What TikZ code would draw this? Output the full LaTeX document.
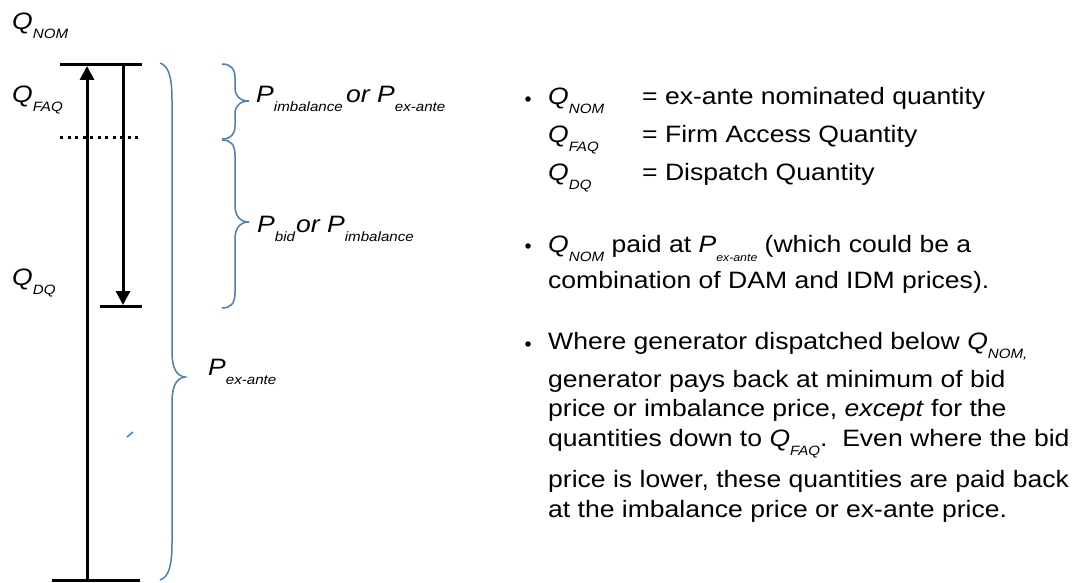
\documentclass[tikz,border=0pt]{standalone}
\usepackage{fontspec}
\setmainfont{Liberation Sans}
\usetikzlibrary{arrows.meta}
\definecolor{braceblue}{RGB}{74,126,187}
\newcommand{\sx}[1]{\scalebox{1.12}[1]{#1}}
\newcommand{\sbs}[1]{\raisebox{-9pt}{\fontsize{13.5}{14}\selectfont\itshape #1}}
\newcommand{\sbsm}[1]{\raisebox{-9pt}{\fontsize{11}{12}\selectfont\itshape #1}}
\newcommand{\Qv}{\textit{Q}}
\begin{document}
\begin{tikzpicture}[x=1pt,y=-1pt,
  txt/.style={anchor=base west, inner sep=0pt, font=\fontsize{23.7}{28}\selectfont},
  bar/.style={line width=3pt},
  arr/.style={line width=3pt, -{Triangle[length=14pt,width=14pt]}},
  dots/.style={line width=3pt, dash pattern=on 3pt off 4.5pt},
  brc/.style={draw=braceblue, line width=1.5pt},
  bul/.style={circle, fill=black, inner sep=0pt, minimum size=5.5pt}]
\useasboundingbox (0,0) rectangle (1074,583);

% left labels
\node[txt] (qnom) at (12,30) {\sx{\Qv\sbs{NOM}}};
\node[txt] (qfaq) at (12,103) {\sx{\Qv\sbs{FAQ}}};
\node[txt] (qdq)  at (12,285) {\sx{\Qv\sbs{DQ}}};

% bars
\coordinate (t1) at (60,65);  \coordinate (t2) at (142,65);
\coordinate (d1) at (60,138); \coordinate (d2) at (142,138);
\coordinate (s1) at (100,306); \coordinate (s2) at (142,306);
\coordinate (b1) at (52,580); \coordinate (b2) at (140,580);
\coordinate (ua) at (87,580); \coordinate (ub) at (87,66);
\coordinate (da) at (123,65); \coordinate (db) at (123,305);
\draw[bar] (t1) -- (t2);
\draw[dots] (d1) -- (d2);
\draw[bar] (s1) -- (s2);
\draw[bar] (b1) -- (b2);
\draw[arr] (ua) -- (ub);
\draw[arr] (da) -- (db);

% big brace
\draw[brc] (160,63) .. controls (169,66) and (172,78) .. (172,100) -- (172,352)
  .. controls (172,369) and (177,376) .. (185,377)
  .. controls (177,378) and (172,385) .. (172,402) -- (172,543)
  .. controls (172,565) and (169,577) .. (160,580);
% small brace 1
\draw[brc] (222,64) .. controls (231,64) and (235,69) .. (235,78) -- (235,88)
  .. controls (235,96) and (240,101) .. (249,101)
  .. controls (240,101) and (235,106) .. (235,114) -- (235,126)
  .. controls (235,134) and (231,139) .. (222,139);
% small brace 2
\draw[brc] (222,140) .. controls (231,140) and (235,145) .. (235,155) -- (235,205)
  .. controls (235,216) and (240,222) .. (249,222)
  .. controls (240,222) and (235,228) .. (235,239) -- (235,293)
  .. controls (235,303) and (231,308) .. (222,308);
% tick
\draw[brc] (127,437) -- (133,432);

% brace labels
\node[txt] (pimb) at (256,103) {\sx{\itshape P\sbs{imbalance}\hspace{3pt}or P\sbs{ex-ante}}};
\node[txt] (pbid) at (257,233) {\sx{\itshape P\sbs{bid}\hspace{1pt}or P\sbs{imbalance}}};
\node[txt] (pex)  at (208,375) {\sx{\itshape P\sbs{ex-ante}}};

% right column
\node[bul] (u1) at (528,99) {};
\node[bul] (u2) at (528,246) {};
\node[bul] (u3) at (528,344) {};
\node[txt] (l1a) at (548,105) {\sx{\Qv\sbs{NOM}}};
\node[txt] (l1b) at (642,105) {\sx{= ex-ante nominated quantity}};
\node[txt] (l2a) at (548,143) {\sx{\Qv\sbs{FAQ}}};
\node[txt] (l2b) at (642,143) {\sx{= Firm Access Quantity}};
\node[txt] (l3a) at (548,181) {\sx{\Qv\sbs{DQ}}};
\node[txt] (l3b) at (642,181) {\sx{= Dispatch Quantity}};
\node[txt] (m1) at (548,252) {\sx{\Qv\sbs{NOM} paid at \textit{P}\sbsm{ex-ante} (which could be a}};
\node[txt] (m2) at (548,288) {\sx{combination of DAM and IDM prices).}};
\node[txt] (n1) at (548,349) {\sx{Where generator dispatched below \Qv\sbs{NOM,}}};
\node[txt] (n2) at (548,387) {\sx{generator pays back at minimum of bid}};
\node[txt] (n3) at (548,416) {\sx{price or imbalance price, \textit{except} for the}};
\node[txt] (n4) at (548,446) {\sx{quantities down to \Qv\sbs{FAQ}.\ \ Even where the bid}};
\node[txt] (n5) at (548,487) {\sx{price is lower, these quantities are paid back}};
\node[txt] (n6) at (548,517) {\sx{at the imbalance price or ex-ante price.}};
\end{tikzpicture}
\end{document}
